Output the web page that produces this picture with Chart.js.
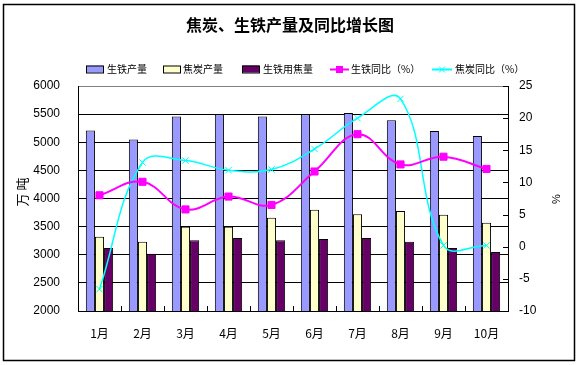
<!DOCTYPE html>
<html>
<head>
<meta charset="utf-8">
<script src="https://cdn.jsdelivr.net/npm/chart.js@4/dist/chart.umd.min.js"></script>
<style>
html,body{margin:0;padding:0;background:#fff;}
canvas{display:block;}
</style>
</head>
<body>
<canvas id="c" width="580" height="365"></canvas>
<script>
const months = ['1月','2月','3月','4月','5月','6月','7月','8月','9月','10月'];
const pigIron = [5210,5050,5460,5500,5460,5500,5520,5390,5200,5110];
const coke = [3320,3230,3500,3500,3660,3800,3720,3780,3710,3570];
const cokeForIron = [3120,3020,3260,3300,3260,3280,3300,3230,3120,3050];
const ironYoY = [8.0,10.1,5.8,7.8,6.5,11.7,17.5,12.8,14.0,12.1];
const cokeYoY = [-6.6,13.1,13.4,11.9,12.0,15.2,20.0,23.0,0.2,0.2];
const leftTicks = {min:2000, max:6000, step:500};
const rightTicks = {min:-10, max:25, step:5};

const NUM_FONT = '"Liberation Sans", "Noto Sans CJK SC", sans-serif';
const CJK_FONT = '"Noto Sans CJK SC", sans-serif';

const deco = {
  id: 'deco',
  beforeDraw(chart) {
    const ctx = chart.ctx;
    ctx.save();
    ctx.fillStyle = '#fff';
    ctx.fillRect(0, 0, chart.width, chart.height);
    ctx.restore();
  },
  afterDraw(chart) {
    const ctx = chart.ctx;
    const ca = chart.chartArea;
    ctx.save();
    ctx.strokeStyle = '#000';
    ctx.lineWidth = 1.5;
    ctx.strokeRect(3.5, 4.5, 571, 356);
    ctx.fillStyle = '#000';
    ctx.font = 'bold 16px ' + CJK_FONT;
    ctx.textAlign = 'center';
    ctx.textBaseline = 'middle';
    ctx.fillText('焦炭、生铁产量及同比增长图', 290, 25);
    const ly = 69;
    ctx.font = '10px ' + CJK_FONT;
    ctx.textAlign = 'left';
    const ds = chart.data.datasets;
    const boxes = [[86, 107], [163, 183], [242, 263]];
    const barIdx = [2, 3, 4];
    barIdx.forEach((di, k) => {
      const d = ds[di];
      ctx.fillStyle = d.backgroundColor;
      ctx.fillRect(boxes[k][0], ly - 3.5, 17, 7);
      ctx.strokeStyle = '#000';
      ctx.lineWidth = 1;
      ctx.strokeRect(boxes[k][0] + 0.5, ly - 3.5 + 0.5, 17, 7);
      ctx.fillStyle = '#000';
      ctx.fillText(d.label, boxes[k][1], ly + 0.5);
    });
    const lines = [[0, 330, 349, 351], [1, 432, 452, 455]];
    lines.forEach(([di, x0, x1, tx]) => {
      const d = ds[di];
      ctx.strokeStyle = d.borderColor;
      ctx.lineWidth = 2;
      ctx.beginPath();
      ctx.moveTo(x0, ly + 0.5);
      ctx.lineTo(x1, ly + 0.5);
      ctx.stroke();
      const cx = (x0 + x1) / 2;
      if (d.pointStyle === 'rect') {
        ctx.fillStyle = d.borderColor;
        ctx.fillRect(cx - 3.5, ly - 3, 7, 7);
      } else {
        ctx.lineWidth = 1;
        ctx.beginPath();
        ctx.moveTo(cx - 3, ly - 2.5); ctx.lineTo(cx + 3, ly + 3.5);
        ctx.moveTo(cx + 3, ly - 2.5); ctx.lineTo(cx - 3, ly + 3.5);
        ctx.stroke();
      }
      ctx.fillStyle = '#000';
      ctx.fillText(d.label, tx, ly + 0.5);
    });
    ctx.font = '13px ' + CJK_FONT;
    ctx.textAlign = 'center';
    ctx.textBaseline = 'middle';
    ctx.save();
    ctx.translate(22, 192);
    ctx.rotate(-Math.PI / 2);
    ctx.fillText('万 吨', 0, 0);
    ctx.restore();
    ctx.save();
    ctx.translate(557, 199);
    ctx.rotate(-Math.PI / 2);
    ctx.font = '11px ' + NUM_FONT;
    ctx.fillText('%', 0, 0);
    ctx.restore();
    ctx.strokeStyle = '#000';
    ctx.lineWidth = 1;
    const xs = chart.scales.x;
    ctx.beginPath();
    for (let i = 0; i <= months.length; i++) {
      const px = Math.round(xs.getPixelForValue(i - 0.5)) + 0.5;
      ctx.moveTo(px, ca.bottom);
      ctx.lineTo(px, ca.bottom - 5);
    }
    const y1 = chart.scales.y1;
    for (let v = rightTicks.min; v <= rightTicks.max; v += rightTicks.step) {
      const py = Math.round(y1.getPixelForValue(v)) + 0.5;
      ctx.moveTo(ca.right, py);
      ctx.lineTo(ca.right - 5, py);
    }
    ctx.stroke();
    ctx.restore();
  }
};

new Chart(document.getElementById('c'), {
  data: {
    labels: months,
    datasets: [
      { type: 'line', label: '生铁同比（%）', data: ironYoY, yAxisID: 'y1', order: 0,
        borderColor: '#FF00FF', backgroundColor: '#FF00FF', borderWidth: 2, tension: 0.4,
        pointStyle: 'rect', pointRadius: 5, pointBackgroundColor: '#FF00FF', pointBorderColor: '#FF00FF', pointBorderWidth: 1 },
      { type: 'line', label: '焦炭同比（%）', data: cokeYoY, yAxisID: 'y1', order: 1,
        borderColor: '#00FFFF', backgroundColor: '#00FFFF', borderWidth: 1.5, tension: 0.4,
        pointStyle: 'crossRot', pointRadius: 4.5, pointBorderColor: '#00FFFF', pointBorderWidth: 1 },
      { type: 'bar', label: '生铁产量', data: pigIron, yAxisID: 'y', order: 2,
        backgroundColor: '#9999FF', borderColor: '#000', borderWidth: 1, borderSkipped: false },
      { type: 'bar', label: '焦炭产量', data: coke, yAxisID: 'y', order: 2,
        backgroundColor: '#FFFFCC', borderColor: '#000', borderWidth: 1, borderSkipped: false },
      { type: 'bar', label: '生铁用焦量', data: cokeForIron, yAxisID: 'y', order: 2,
        backgroundColor: '#660066', borderColor: '#000', borderWidth: 1, borderSkipped: false }
    ]
  },
  options: {
    responsive: false,
    animation: false,
    events: [],
    datasets: { bar: { categoryPercentage: 0.635, barPercentage: 1.0 } },
    layout: { padding: { top: 86, left: 0, right: 0, bottom: 0 } },
    plugins: { legend: { display: false }, title: { display: false }, tooltip: { enabled: false } },
    scales: {
      x: {
        offset: true,
        grid: { display: false, drawTicks: false },
        border: { display: true, color: '#000', width: 1 },
        ticks: { color: '#000', font: { size: 12, family: CJK_FONT }, padding: 15, autoSkip: false, maxRotation: 0 },
        afterFit(s) { s.height = 54; }
      },
      y: {
        position: 'left',
        min: leftTicks.min, max: leftTicks.max,
        grid: { drawTicks: false, color: (c) => (c.tick && c.tick.value === leftTicks.max) ? '#808080' : '#000', lineWidth: 1 },
        border: { display: true, color: '#000', width: 1 },
        ticks: { stepSize: leftTicks.step, color: '#000', font: { size: 12, family: NUM_FONT }, padding: 18, callback: (v) => String(v) },
        afterFit(s) { s.width = 78; }
      },
      y1: {
        position: 'right',
        min: rightTicks.min, max: rightTicks.max,
        grid: { drawOnChartArea: false, drawTicks: false },
        border: { display: true, color: '#000', width: 1 },
        ticks: { stepSize: rightTicks.step, color: '#000', font: { size: 12, family: NUM_FONT }, padding: 11, callback: (v) => String(v) },
        afterFit(s) { s.width = 72; }
      }
    }
  },
  plugins: [deco]
});
</script>
</body>
</html>
